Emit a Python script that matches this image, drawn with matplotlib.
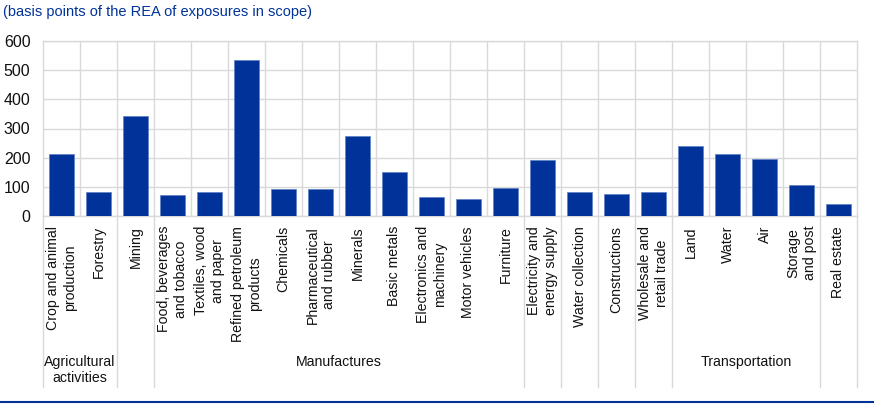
import matplotlib
matplotlib.use("Agg")
import matplotlib.pyplot as plt
from matplotlib.lines import Line2D
from matplotlib.transforms import offset_copy

plt.rcParams['font.family'] = ['Liberation Sans', 'DejaVu Sans']

categories = [
    "Crop and animal\nproduction", "Forestry", "Mining",
    "Food, beverages\nand tobacco", "Textiles, wood\nand paper",
    "Refined petroleum\nproducts", "Chemicals", "Pharmaceutical\nand rubber",
    "Minerals", "Basic metals", "Electronics and\nmachinery", "Motor vehicles",
    "Furniture", "Electricity and\nenergy supply", "Water collection",
    "Constructions", "Wholesale and\nretail trade", "Land", "Water", "Air",
    "Storage\nand post", "Real estate",
]
values = [214, 84, 342, 73, 84, 534, 91, 91, 273, 151, 65, 58, 96, 193,
          84, 77, 82, 240, 212, 196, 108, 42]

# groups: (label, first index, last index)
groups = [
    ("Agricultural\nactivities", 0, 1),
    ("", 2, 2),
    ("Manufactures", 3, 12),
    ("", 13, 13),
    ("", 14, 14),
    ("", 15, 15),
    ("", 16, 16),
    ("Transportation", 17, 20),
    ("", 21, 21),
]
yticks = [0, 100, 200, 300, 400, 500, 600]
title = "(basis points of the REA of exposures in scope)"

BLUE = "#003299"
GRID = "#d9d9d9"

W, H = 874, 407
fig = plt.figure(figsize=(W / 100, H / 100), dpi=100)
ax_left, ax_right, ax_top, ax_bottom = 43, 857, 41, 216
ax = fig.add_axes([ax_left / W, (H - ax_bottom) / H,
                   (ax_right - ax_left) / W, (ax_bottom - ax_top) / H])

x = list(range(len(categories)))
ax.bar(x, values, width=0.68, color=BLUE, edgecolor="#5d7fc4", linewidth=0.5, zorder=3)

ax.set_xlim(-0.5, len(categories) - 0.5)
ax.set_ylim(0, 600)
ax.set_yticks(yticks)
ax.set_yticklabels([str(v) for v in yticks], fontsize=11.5, color="#111111")
ax.tick_params(axis="y", length=0, pad=9)
ax.set_xticks([i + 0.5 for i in x[:-1]], minor=False)
ax.set_xticklabels([])
ax.tick_params(axis="x", length=0)
ax.grid(True, color=GRID, linewidth=1, zorder=0)
for s in ax.spines.values():
    s.set_color(GRID)
    s.set_linewidth(1)

axh = ax_bottom - ax_top
# category labels
xt = ax.get_xaxis_transform()
lab_tr = offset_copy(xt, fig=fig, x=0, y=-10, units="dots")
for i, c in enumerate(categories):
    ax.text(i, 0, c, transform=lab_tr, rotation=90, ha="center", va="top",
            multialignment="center", fontsize=10.2, color="#111111",
            linespacing=1.2)

# group separators and labels
depth = (387 - ax_bottom) / axh
bounds = set()
for lab, a, b in groups:
    bounds.add(a - 0.5)
    bounds.add(b + 0.5)
    if lab:
        yc = 370 if "\n" in lab else 362
        ax.text((a + b) / 2, -(yc - ax_bottom) / axh, lab,
                transform=xt, ha="center", va="center", fontsize=10.2,
                color="#111111", linespacing=1.1)
for bx in sorted(bounds):
    ax.add_line(Line2D([bx, bx], [0, -depth], transform=xt, color=GRID,
                       linewidth=1, clip_on=False))

fig.text(3 / W, 1 - 12 / H, title, ha="left", va="center", fontsize=10.5, color=BLUE)
fig.add_artist(Line2D([0, 1], [(H - 401.7) / H] * 2, transform=fig.transFigure,
                      color=BLUE, linewidth=1.5))

fig.savefig("out.png", dpi=100)
